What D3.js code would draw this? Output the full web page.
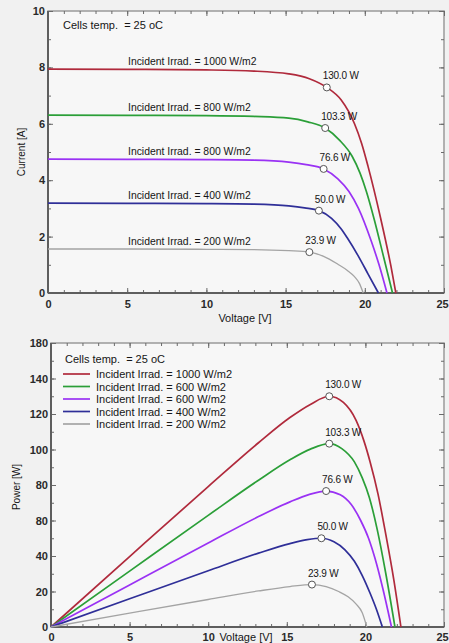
<!DOCTYPE html>
<html>
<head>
<meta charset="utf-8">
<script src="https://cdn.jsdelivr.net/npm/d3@7"></script>
<style>
  body { margin: 0; background: #f1f1f1; }
  text { font-family: "Liberation Sans", Arial, sans-serif; fill: #151515; }
</style>
</head>
<body>
<div id="vis"></div>
<script>
const W = 449, H = 643;

const colors = ["#b02a3c", "#2b9f38", "#9a32f4", "#2f2f98", "#a4a4a4"];
const ivLabels = ["Incident Irrad. = 1000 W/m2", "Incident Irrad. = 800 W/m2", "Incident Irrad. = 800 W/m2",
                  "Incident Irrad. = 400 W/m2", "Incident Irrad. = 200 W/m2"];
const pvLabels = ["Incident Irrad. = 1000 W/m2", "Incident Irrad. = 600 W/m2", "Incident Irrad. = 600 W/m2",
                  "Incident Irrad. = 400 W/m2", "Incident Irrad. = 200 W/m2"];

// I-V curves, [voltage, current]
const ivRed = [[0,7.94],[5,7.93],[10,7.91],[13,7.87],[15.2,7.77],[16.5,7.6],[17.6,7.29],[18.5,6.85],[19.35,6.0],[19.8,5.3],[20.2,4.5],[21.0,2.65],[21.65,0.95],[21.96,0]];
const ivGreen = [[0,6.31],[5,6.3],[10,6.29],[13,6.26],[15.2,6.2],[16.4,6.07],[17.5,5.85],[18.4,5.42],[19.2,4.85],[19.7,4.25],[20.1,3.6],[20.6,2.6],[21.2,1.25],[21.75,0]];
const ivPurple = [[0,4.75],[5,4.74],[10,4.73],[13,4.71],[15.2,4.64],[16.3,4.55],[17.4,4.4],[18.3,4.05],[19.0,3.6],[19.6,3.0],[20.4,1.85],[20.9,1.0],[21.4,0]];
const ivBlue = [[0,3.19],[5,3.18],[10,3.17],[13,3.15],[15.2,3.09],[16.2,3.02],[17.1,2.92],[17.9,2.65],[18.5,2.28],[18.9,1.95],[19.6,1.3],[20.2,0.68],[20.86,0]];
const ivGray = [[0,1.56],[5,1.56],[10,1.55],[13,1.54],[15.2,1.5],[16.5,1.45],[17.4,1.3],[18.3,1.02],[18.9,0.8],[19.35,0.58],[19.65,0.35],[19.9,0]];

// P-V curves, [voltage, power]
const pvRed = [[0,0],[5,39.7],[10,79.1],[13.2,103.8],[15.2,118],[16.5,125.4],[17.7,130],[18.6,126.5],[19.4,116.5],[19.9,105],[20.3,93],[20.8,75],[21.3,52],[21.8,27],[22.26,0]];
const pvGreen = [[0,0],[5,31.5],[10,62.9],[13.2,82.7],[15.2,94.2],[16.5,100.2],[17.7,103.3],[18.5,100.5],[19.3,93],[19.8,84],[20.25,73],[20.75,55],[21.3,30],[21.88,0]];
const pvPurple = [[0,0],[5,23.7],[10,47.3],[13.2,62.2],[15.2,70.5],[16.4,74.6],[17.5,76.6],[18.4,74.5],[19.1,69],[19.7,60],[20.2,50],[20.6,39],[21.1,22],[21.66,0]];
const pvBlue = [[0,0],[5,15.9],[10,31.7],[13.2,41.6],[15.2,47],[16.3,49.2],[17.2,50],[18.0,48],[18.7,43.5],[19.3,37],[19.8,29],[20.3,19],[20.7,10],[21.08,0]];
const pvGray = [[0,0],[5,7.8],[10,15.5],[13.2,20.3],[15.2,22.8],[16.6,23.9],[17.5,22.8],[18.3,20],[18.9,17],[19.4,13],[19.8,8],[20.09,0]];

// maximum power points
const mppLabels = ["130.0 W", "103.3 W", "76.6 W", "50.0 W", "23.9 W"];
const mppI = [[17.6,7.29],[17.5,5.85],[17.4,4.4],[17.1,2.92],[16.5,1.45]];
const mppP = [[17.7,130],[17.7,103.3],[17.5,76.6],[17.2,50],[16.6,23.9]];

const xTicks = [0, 5, 10, 15, 20, 25];
const iTicks = [0, 2, 4, 6, 8, 10];
const pTicks = [0, 20, 40, 60, 80, 100, 120, 140, 160];
const pTickLabels = ["0", "20", "40", "80", "80", "100", "120", "140", "180"];

const svg = d3.select('#vis').append('svg')
    .attr('width', W).attr('height', H)
    .style('background', '#f1f1f1');

const x1 = d3.scaleLinear([0, 25], [48, 444]);
const y1 = d3.scaleLinear([0, 10], [293, 11]);
const x2 = d3.scaleLinear([0, 25], [51, 444]);
const y2 = d3.scaleLinear([0, 160], [627, 343]);

function drawFrame(x, y, yMajor, yMinor, yLabels, xPad) {
    const [l, r] = x.range(), [b, t] = y.range();
    const g = svg.append('g');
    g.append('rect').attr('x', l).attr('y', t).attr('width', r - l).attr('height', b - t)
        .attr('fill', '#f7f7f7').attr('stroke', '#9a9a9a').attr('stroke-width', 1.5);

    const tick = (axis, tr, vals, size) => {
        g.append('g').attr('transform', tr)
            .call(axis.tickValues(vals).tickSizeInner(-size).tickSizeOuter(0).tickFormat(''))
            .call(a => a.select('.domain').remove())
            .selectAll('line').attr('stroke', '#6a6a6a').attr('stroke-width', 1);
    };
    const xMinor = d3.range(0, 26, 1);
    tick(d3.axisBottom(x), `translate(0,${b})`, xMinor, 3);
    tick(d3.axisBottom(x), `translate(0,${b})`, xTicks, 5);
    tick(d3.axisTop(x), `translate(0,${t})`, xMinor, 3);
    tick(d3.axisTop(x), `translate(0,${t})`, xTicks, 5);
    tick(d3.axisLeft(y), `translate(${l},0)`, yMinor, 3);
    tick(d3.axisLeft(y), `translate(${l},0)`, yMajor, 5);
    tick(d3.axisRight(y), `translate(${r},0)`, yMinor, 3);
    tick(d3.axisRight(y), `translate(${r},0)`, yMajor, 5);

    // darker left and bottom spines
    g.append('line').attr('x1', l).attr('x2', l).attr('y1', t).attr('y2', b)
        .attr('stroke', '#5e5e5e').attr('stroke-width', 2);
    g.append('line').attr('x1', l).attr('x2', r).attr('y1', b).attr('y2', b)
        .attr('stroke', '#5e5e5e').attr('stroke-width', 2);

    g.append('g').attr('transform', `translate(0,${b})`)
        .call(d3.axisBottom(x).tickValues(xTicks).tickSize(0).tickPadding(xPad))
        .call(a => a.select('.domain').remove())
        .selectAll('text').attr('font-family', null).attr('font-size', 11).attr('fill', '#222')
        .attr('dx', d => d == 25 ? -2 : 0);   // keep the last label inside the window
    g.append('g').attr('transform', `translate(${l},0)`)
        .call(d3.axisLeft(y).tickValues(yMajor).tickSize(0).tickPadding(3).tickFormat((d, i) => yLabels[i]))
        .call(a => a.select('.domain').remove())
        .selectAll('text').attr('font-family', null).attr('font-size', 11).attr('fill', '#222');
    g.selectAll('.tick text').style('font-weight', 'bold').style('fill', '#2a2a2a');
    return g;
}

function drawCurves(x, y, series) {
    const line = d3.line().x(d => x(d[0])).y(d => y(d[1])).curve(d3.curveMonotoneX);
    svg.append('g').selectAll('path')
        .data(series)
        .enter()
        .append('path')
        .attr('d', d => line(d))
        .attr('fill', 'none')
        .attr('stroke', (d, i) => colors[i])
        .attr('stroke-width', (d, i) => i == 4 ? 1.3 : 1.7);
}

function drawMpp(x, y, pts) {
    const g = svg.append('g');
    g.selectAll('circle').data(pts).enter().append('circle')
        .attr('cx', d => x(d[0])).attr('cy', d => y(d[1])).attr('r', 3.5)
        .attr('fill', '#fff').attr('stroke', '#555').attr('stroke-width', 1);
    g.selectAll('text').data(pts).enter().append('text')
        .attr('x', d => x(d[0]) - 4).attr('y', d => y(d[1]) - 8)
        .attr('font-size', 10).style('letter-spacing', '-0.2px')
        .text((d, i) => mppLabels[i]);
}

// ---- top chart: current vs voltage
const ivSeries = [ivRed, ivGreen, ivPurple, ivBlue, ivGray];
drawFrame(x1, y1, iTicks, d3.range(0, 11, 1), iTicks.map(String), 7);
drawCurves(x1, y1, ivSeries);
drawMpp(x1, y1, mppI);

svg.append('g').selectAll('text').data(ivSeries).enter().append('text')
    .attr('x', 128).attr('y', d => y1(d[0][1]) - 4)
    .attr('font-size', 10.4)
    .text((d, i) => ivLabels[i]);

svg.append('text').attr('x', 63).attr('y', 29).attr('font-size', 11)
    .style('white-space', 'pre').text('Cells temp.  = 25 oC');
svg.append('text').attr('x', 245).attr('y', 322).attr('text-anchor', 'middle')
    .attr('font-size', 11).text('Voltage [V]');
svg.append('text').attr('transform', 'translate(25,152) rotate(-90)').attr('text-anchor', 'middle')
    .attr('font-size', 10).text('Current [A]');

// ---- bottom chart: power vs voltage
const pvSeries = [pvRed, pvGreen, pvPurple, pvBlue, pvGray];
drawFrame(x2, y2, pTicks, d3.range(0, 161, 10), pTickLabels, 6);
drawCurves(x2, y2, pvSeries);
drawMpp(x2, y2, mppP);

svg.append('text').attr('x', 65).attr('y', 363).attr('font-size', 11)
    .style('white-space', 'pre').text('Cells temp.  = 25 oC');

const legend = svg.append('g').attr('transform', 'translate(63,374)');
const items = legend.selectAll('g').data(pvLabels).enter().append('g')
    .attr('transform', (d, i) => `translate(0,${i * 12.5})`);
items.append('line').attr('x1', 0).attr('x2', 27)
    .attr('stroke', (d, i) => colors[i]).attr('stroke-width', 1.7);
items.append('text').attr('x', 33).attr('y', 4).attr('font-size', 11).text(d => d);

svg.append('text').attr('x', 246).attr('y', 641).attr('text-anchor', 'middle')
    .attr('font-size', 11).text('Voltage [V]');
svg.append('text').attr('transform', 'translate(20,487) rotate(-90)').attr('text-anchor', 'middle')
    .attr('font-size', 10).text('Power [W]');
</script>
</body>
</html>
